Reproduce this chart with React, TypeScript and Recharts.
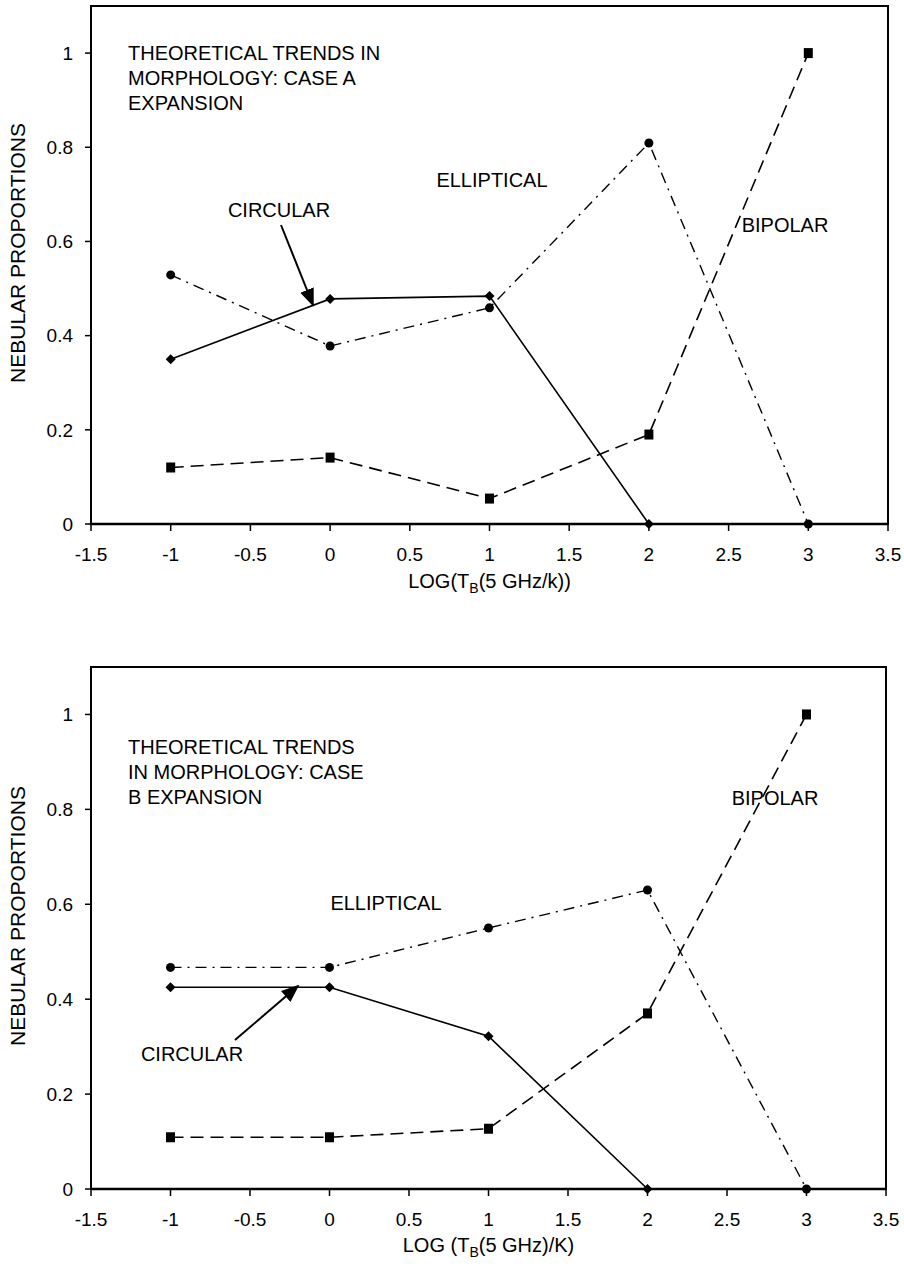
import React from "react";
import { LineChart, Line, XAxis, YAxis, ReferenceArea } from "recharts";

const xValues = [-1, 0, 1, 2, 3];
const xTicks = [-1.5, -1, -0.5, 0, 0.5, 1, 1.5, 2, 2.5, 3, 3.5];
const yTicks = [0, 0.2, 0.4, 0.6, 0.8, 1];

const circularA = [0.35, 0.478, 0.484, 0, null];
const ellipticalA = [0.529, 0.378, 0.459, 0.809, 0];
const bipolarA = [0.12, 0.141, 0.054, 0.19, 1.0];

const circularB = [0.425, 0.425, 0.322, 0, null];
const ellipticalB = [0.467, 0.467, 0.55, 0.63, 0];
const bipolarB = [0.109, 0.109, 0.127, 0.37, 1.0];

const FONT = "'Liberation Sans', Arial, sans-serif";

function buildRows(c: (number | null)[], e: number[], b: number[]) {
  return xValues.map((x, i) => ({ x, circular: c[i], elliptical: e[i], bipolar: b[i] }));
}

const Diamond = (props: any) => {
  const { cx, cy, index, value } = props;
  if (value === null || value === undefined || cx == null || cy == null) return <g key={"d" + index} />;
  const r = 5;
  return (
    <path key={"d" + index} d={`M${cx},${cy - r}L${cx + r},${cy}L${cx},${cy + r}L${cx - r},${cy}Z`} fill="#000" />
  );
};
const Circle = (props: any) => {
  const { cx, cy, index } = props;
  if (cx == null || cy == null) return <g key={"c" + index} />;
  return <circle key={"c" + index} cx={cx} cy={cy} r={4.5} fill="#000" />;
};
const Square = (props: any) => {
  const { cx, cy, index } = props;
  if (cx == null || cy == null) return <g key={"s" + index} />;
  return <rect key={"s" + index} x={cx - 4.5} y={cy - 5} width={9} height={10} fill="#000" />;
};

type Note = { text: string[]; x: number; y: number; anchor?: string };
type Arrow = { x1: number; y1: number; x2: number; y2: number };

function Panel(props: {
  top: number;
  height: number;
  rightMargin: number;
  xAxisHeight: number;
  rows: any[];
  xTitle: React.ReactNode;
  xTitleY: number;
  notes: Note[];
  arrow: Arrow;
}) {
  const { top, height, rightMargin, xAxisHeight, rows, xTitle, xTitleY, notes, arrow } = props;
  return (
    <div style={{ position: "absolute", left: 0, top, width: 904, height }}>
      <LineChart
        width={904}
        height={height}
        data={rows}
        margin={{ top: 6, right: rightMargin, bottom: 0, left: 0 }}
        style={{ fontFamily: FONT }}
      >
        <ReferenceArea x1={-1.5} x2={3.5} y1={0} y2={1.1} fill="none" stroke="#000" strokeWidth={2} ifOverflow="visible" />
        <XAxis
          dataKey="x"
          type="number"
          domain={[-1.5, 3.5]}
          ticks={xTicks}
          height={xAxisHeight}
          tickSize={7}
          tickMargin={17}
          interval={0}
          axisLine={{ stroke: "#000", strokeWidth: 2.5 }}
          tickLine={{ stroke: "#000", strokeWidth: 1.5 }}
          tick={{ fill: "#000", fontSize: 19, fontFamily: FONT }}
          label={{
            content: (p: any) => {
              const vb = p.viewBox;
              const cx = vb.x + vb.width / 2;
              return (
                <text x={cx} y={xTitleY} textAnchor="middle" fontSize={20} fontFamily={FONT} fill="#000">
                  {xTitle}
                </text>
              );
            },
          }}
        />
        <YAxis
          type="number"
          domain={[0, 1.1]}
          ticks={yTicks}
          width={91}
          tickSize={6}
          tickMargin={12}
          interval={0}
          axisLine={{ stroke: "#000", strokeWidth: 2 }}
          tickLine={{ stroke: "#000", strokeWidth: 1.5 }}
          tick={{ fill: "#000", fontSize: 19, fontFamily: FONT }}
          label={{
            content: (p: any) => {
              const vb = p.viewBox;
              const cx = 17;
              const cy = vb.y + vb.height / 2 - 12;
              return (
                <text
                  x={cx}
                  y={cy}
                  transform={`rotate(-90 ${cx} ${cy})`}
                  textAnchor="middle"
                  dominantBaseline="central"
                  fontSize={21}
                  fontFamily={FONT}
                  fill="#000"
                >
                  NEBULAR PROPORTIONS
                </text>
              );
            },
          }}
        />
        <Line
          dataKey="bipolar"
          stroke="#000"
          strokeWidth={1.6}
          strokeDasharray="13 7"
          dot={Square}
          isAnimationActive={false}
          connectNulls={false}
        />
        <Line
          dataKey="elliptical"
          stroke="#000"
          strokeWidth={1.4}
          strokeDasharray="11 6 2 6"
          dot={Circle}
          isAnimationActive={false}
        />
        <Line
          dataKey="circular"
          stroke="#000"
          strokeWidth={1.6}
          dot={Diamond}
          isAnimationActive={false}
          connectNulls={false}
        />
      </LineChart>
      <svg width={904} height={height} style={{ position: "absolute", left: 0, top: 0, pointerEvents: "none" }}>
        <defs>
          <marker id={"ah" + top} viewBox="0 0 10 10" refX="9" refY="5" markerWidth="9" markerHeight="9" orient="auto">
            <path d="M0,1 L10,5 L0,9 Z" fill="#000" />
          </marker>
        </defs>
        <line
          x1={arrow.x1}
          y1={arrow.y1}
          x2={arrow.x2}
          y2={arrow.y2}
          stroke="#000"
          strokeWidth={2}
          markerEnd={`url(#ah${top})`}
        />
        {notes.map((n, i) => (
          <text key={i} x={n.x} y={n.y} textAnchor={(n.anchor as any) || "start"} fontSize={20} fontFamily={FONT} fill="#000">
            {n.text.map((t, j) => (
              <tspan key={j} x={n.x} dy={j === 0 ? 0 : 25}>
                {t}
              </tspan>
            ))}
          </text>
        ))}
      </svg>
    </div>
  );
}

export default function App() {
  const rowsA = buildRows(circularA, ellipticalA, bipolarA);
  const rowsB = buildRows(circularB, ellipticalB, bipolarB);
  return (
    <div style={{ position: "absolute", left: 0, top: 0, width: 904, height: 1275, background: "#fff" }}>
      <Panel
        top={0}
        height={620}
        rightMargin={16}
        xAxisHeight={96}
        rows={rowsA}
        xTitleY={588}
        xTitle={
          <>
            <tspan>LOG(T</tspan>
            <tspan dy={5} fontSize={14}>B</tspan>
            <tspan dy={-5}>(5 GHz/k))</tspan>
          </>
        }
        notes={[
          { text: ["THEORETICAL TRENDS IN", "MORPHOLOGY: CASE A", "EXPANSION"], x: 128, y: 60 },
          { text: ["ELLIPTICAL"], x: 492, y: 187, anchor: "middle" },
          { text: ["BIPOLAR"], x: 785, y: 232, anchor: "middle" },
          { text: ["CIRCULAR"], x: 279, y: 217, anchor: "middle" },
        ]}
        arrow={{ x1: 281, y1: 225, x2: 313, y2: 305 }}
      />
      <Panel
        top={661}
        height={614}
        rightMargin={18}
        xAxisHeight={86}
        rows={rowsB}
        xTitleY={591}
        xTitle={
          <>
            <tspan>LOG (T</tspan>
            <tspan dy={5} fontSize={14}>B</tspan>
            <tspan dy={-5}>(5 GHz)/K)</tspan>
          </>
        }
        notes={[
          { text: ["THEORETICAL TRENDS", "IN MORPHOLOGY: CASE", "B EXPANSION"], x: 128, y: 93 },
          { text: ["ELLIPTICAL"], x: 386, y: 249, anchor: "middle" },
          { text: ["BIPOLAR"], x: 775, y: 144, anchor: "middle" },
          { text: ["CIRCULAR"], x: 192, y: 400, anchor: "middle" },
        ]}
        arrow={{ x1: 235, y1: 379, x2: 298, y2: 325 }}
      />
    </div>
  );
}
